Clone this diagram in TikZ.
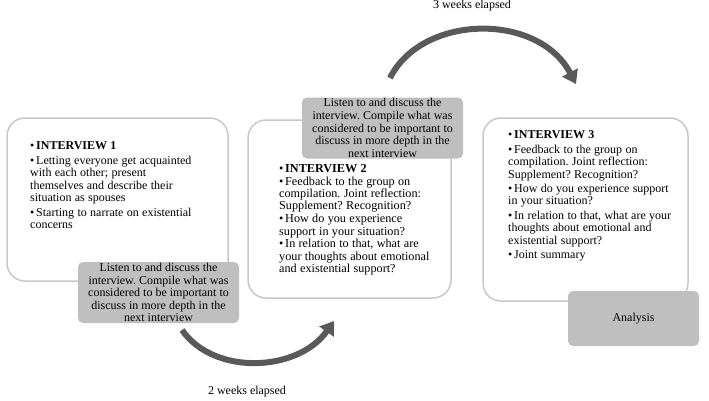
\documentclass[tikz,border=0pt]{standalone}
\usepackage{fontspec}
\setmainfont{Liberation Serif}
\usetikzlibrary{arrows.meta,positioning}
\definecolor{rim}{RGB}{200,200,200}
\definecolor{shade}{RGB}{191,191,191}
\definecolor{arc}{RGB}{89,89,89}
% one bulleted point with a hanging indent
\newcommand{\pnt}[1]{\par\noindent\hangindent=6pt\hangafter=1\makebox[6pt][l]{\textbullet}#1}
\frenchspacing

\begin{document}
\begin{tikzpicture}[x=1pt,y=-1pt,
  sessbox/.style={draw=rim,line width=1.5pt,fill=white,rounded corners=18pt},
  notebox/.style={fill=shade,rounded corners=5pt,minimum width=161pt,minimum height=61pt,
    align=center,font=\fontsize{12}{12.6}\selectfont,inner sep=0pt},
  points/.style={anchor=north west,inner sep=0pt,text width=190pt,align=left},
  elapse/.style={arc,line width=6pt,-{Triangle[length=13pt,width=17pt]}}]
\useasboundingbox (0,0) rectangle (709,400);

% the three interview rounds
\node[sessbox,minimum width=221pt,minimum height=163pt] (s1) at (117.5,199.5) {};
\node[sessbox,minimum width=203pt,minimum height=178pt] (s2) at (349.5,209) {};
\node[sessbox,minimum width=205pt,minimum height=183pt] (s3) at (585.5,209.5) {};

\node[points] (p1) at (30,135) {\fontsize{12}{12.5}\selectfont\setlength{\parskip}{2pt}%
  \pnt{\textbf{INTERVIEW 1}}
  \pnt{Letting everyone get acquainted\\ with each other; present\\ themselves and describe their\\ situation as spouses}
  \pnt{Starting to narrate on existential\\ concerns}};
\node[points] (p2) at (279,159.5) {\fontsize{12.2}{12.3}\selectfont\setlength{\parskip}{0.5pt}%
  \pnt{\textbf{INTERVIEW 2}}
  \pnt{Feedback to the group on\\ compilation. Joint reflection:\\ Supplement? Recognition?}
  \pnt{How do you experience\\ support in your situation?}
  \pnt{In relation to that, what are\\ your thoughts about emotional\\ and existential support?}};
\node[points] (p3) at (508,124) {\fontsize{12}{12.5}\selectfont\setlength{\parskip}{1.9pt}%
  \pnt{\textbf{INTERVIEW 3}}
  \pnt{Feedback to the group on\\ compilation. Joint reflection:\\ Supplement? Recognition?}
  \pnt{How do you experience support\\ in your situation?}
  \pnt{In relation to that, what are your\\ thoughts about emotional and\\ existential support?}
  \pnt{Joint summary}};

% listening notes between rounds
\foreach \nm/\cx/\cy in {n1/158.5/292.5, n2/382.5/128}{
  \node[notebox] (\nm) at (\cx,\cy) {Listen to and discuss the\\ interview. Compile what was\\
    considered to be important to\\ discuss in more depth in the\\ next interview};
}
\node[notebox,minimum width=131pt,minimum height=55pt] (ana) at (633.5,318.5) {Analysis};

% time between the rounds
\coordinate (w2a) at (182,330);
\coordinate (w2b) at (334,321);
\coordinate (w3a) at (390,78);
\coordinate (w3b) at (576,84);
\draw[elapse] (w2a) .. controls (214,376) and (298,372) .. (w2b);
\draw[elapse] (w3a) .. controls (422,14) and (538,12) .. (w3b);
\node[font=\fontsize{12}{14}\selectfont] (t2) at (247,392) {2 weeks elapsed};
\node[font=\fontsize{12}{14}\selectfont] (t3) at (472,6) {3 weeks elapsed};
\end{tikzpicture}
\end{document}
